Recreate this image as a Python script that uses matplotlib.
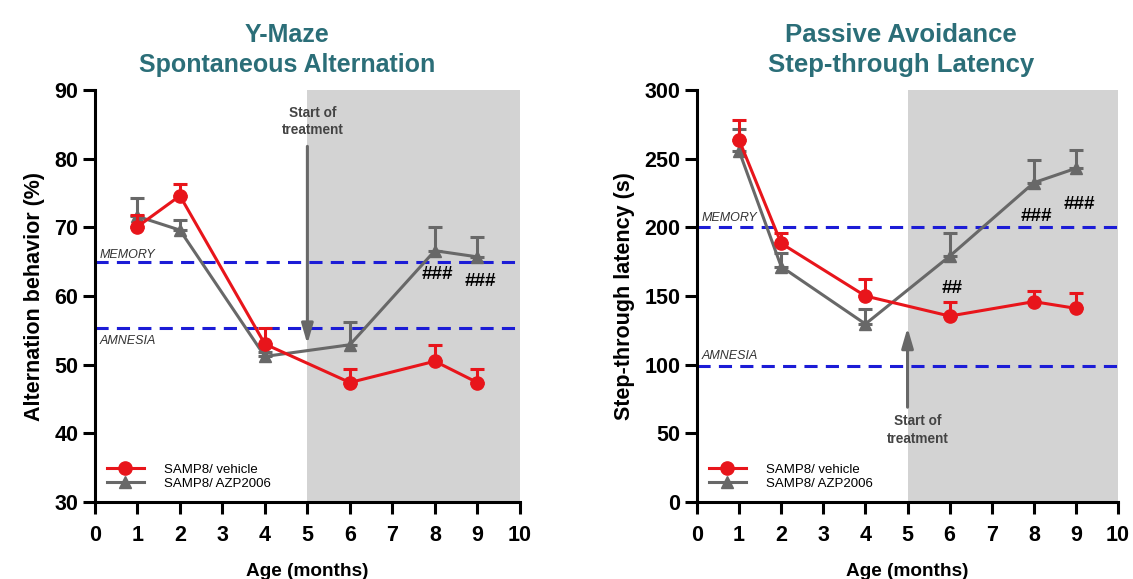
import matplotlib
matplotlib.use("Agg")
import matplotlib.pyplot as plt
from matplotlib.lines import Line2D
import numpy as np

plt.rcParams['font.family'] = ['Liberation Sans', 'DejaVu Sans']

months = [1, 2, 4, 6, 8, 9]

# Y-maze
ym_vehicle = [70.1, 74.6, 53.0, 47.4, 50.5, 47.4]
ym_vehicle_err = [1.7, 1.7, 2.4, 1.9, 2.4, 1.9]
ym_azp = [71.6, 69.6, 51.2, 52.9, 66.6, 65.7]
ym_azp_err = [2.7, 1.4, 0.6, 3.3, 3.4, 2.9]
ym_memory = 65.0
ym_amnesia = 55.4

# Passive avoidance
pa_vehicle = [263.6, 188.3, 150.0, 135.4, 145.9, 141.0]
pa_vehicle_err = [14.4, 7.3, 12.4, 10.0, 7.7, 11.4]
pa_azp = [255.6, 171.4, 129.6, 179.0, 232.5, 243.0]
pa_azp_err = [15.8, 9.6, 10.9, 16.6, 16.5, 13.3]
pa_memory = 200
pa_amnesia = 99

ym_marks = {8: ("###", 63.1), 9: ("###", 62.1)}
pa_marks = {6: ("##", 155.6), 8: ("###", 208), 9: ("###", 216.7)}

RED = '#e8151b'
GREY = '#686868'
BLUE = '#1c1cd6'
TEAL = '#2b6e78'

fig = plt.figure(figsize=(11.33, 5.79), dpi=100)
ax1 = fig.add_axes([0.0838, 0.133, 0.375, 0.7115])
ax2 = fig.add_axes([0.6152, 0.133, 0.3716, 0.7115])


def draw(ax, veh, veh_err, azp, azp_err, mem, amn, ylim, yticks, ylabel, title,
         title_x, title_fs, marks, mem_off, amn_off, ylabelpad):
    ax.axvspan(5, 10, color='#d3d3d3', zorder=0, lw=0)
    ax.axhline(mem, color=BLUE, ls=(0, (4.3, 2.7)), lw=2.2, zorder=1)
    ax.axhline(amn, color=BLUE, ls=(0, (4.3, 2.7)), lw=2.2, zorder=1)
    ax.errorbar(months, azp, yerr=[np.zeros(len(azp)), azp_err], color=GREY,
                marker='^', ms=9, lw=2.2, capsize=5, capthick=2.2, elinewidth=2.2,
                zorder=3)
    ax.errorbar(months, veh, yerr=[np.zeros(len(veh)), veh_err], color=RED,
                marker='o', ms=9.5, lw=2.2, capsize=5, capthick=2.2, elinewidth=2.2,
                zorder=4)
    for m, (txt, yv) in marks.items():
        ax.text(m + 0.07, yv, txt, ha='center', va='center', fontsize=13.5,
                fontweight='bold', color='black', zorder=5)
    ax.text(0.12, mem + mem_off, 'MEMORY', style='italic', fontsize=9,
            color='#333333', va='center', ha='left')
    ax.text(0.12, amn + amn_off, 'AMNESIA', style='italic', fontsize=9,
            color='#333333', va='center', ha='left')
    ax.set_xlim(0, 10)
    ax.set_ylim(*ylim)
    ax.set_xticks(range(0, 11))
    ax.set_yticks(yticks)
    for s in ['top', 'right']:
        ax.spines[s].set_visible(False)
    for s in ['left', 'bottom']:
        ax.spines[s].set_linewidth(2.2)
    ax.tick_params(width=2.2, length=8.5, labelsize=15.5, direction='out')
    ax.tick_params(axis='x', pad=8)
    for lab in ax.get_xticklabels() + ax.get_yticklabels():
        lab.set_fontweight('bold')
    ax.set_xlabel('Age (months)', fontsize=13.7, fontweight='bold', labelpad=12)
    ax.set_ylabel(ylabel, fontsize=15.5, fontweight='bold', labelpad=ylabelpad)
    ax.set_title(title, fontsize=title_fs, fontweight='bold', color=TEAL, pad=13,
                 linespacing=1.3, x=title_x)
    handles = [Line2D([], [], color=RED, marker='o', ms=9.5, lw=2.2),
               Line2D([], [], color=GREY, marker='^', ms=9, lw=2.2)]
    labels = ['SAMP8/ vehicle', 'SAMP8/ AZP2006']
    ax.legend(handles, labels, loc='lower left', frameon=False,
              fontsize=9.5, handlelength=2.8, labelspacing=0.15,
              bbox_to_anchor=(0.0, 0.0), handletextpad=1.5)
    return ax


draw(ax1, ym_vehicle, ym_vehicle_err, ym_azp, ym_azp_err, ym_memory, ym_amnesia,
     (30, 90), range(30, 91, 10), 'Alternation behavior (%)',
     'Y-Maze\nSpontaneous Alternation', 0.452, 18.0, ym_marks, 1.0, -2.0, 7)
ax1.annotate('', xy=(5, 52.6), xytext=(5, 82.2),
             arrowprops=dict(arrowstyle='-|>,head_width=0.35,head_length=1.2',
                             color=GREY, lw=2.2))
ax1.text(5.12, 85.4, 'Start of\ntreatment', ha='center', va='center',
         fontsize=9.8, fontweight='bold', color='#444444', linespacing=1.3)

draw(ax2, pa_vehicle, pa_vehicle_err, pa_azp, pa_azp_err, pa_memory, pa_amnesia,
     (0, 300), range(0, 301, 50), 'Step-through latency (s)',
     'Passive Avoidance\nStep-through Latency', 0.485, 18.5, pa_marks, 6.5, 7.5, 7)
ax2.annotate('', xy=(5, 129), xytext=(5, 67),
             arrowprops=dict(arrowstyle='-|>,head_width=0.35,head_length=1.2',
                             color=GREY, lw=2.2))
ax2.text(5.25, 52.5, 'Start of\ntreatment', ha='center', va='center',
         fontsize=9.8, fontweight='bold', color='#444444', linespacing=1.3)

fig.savefig('out.png', dpi=100)
